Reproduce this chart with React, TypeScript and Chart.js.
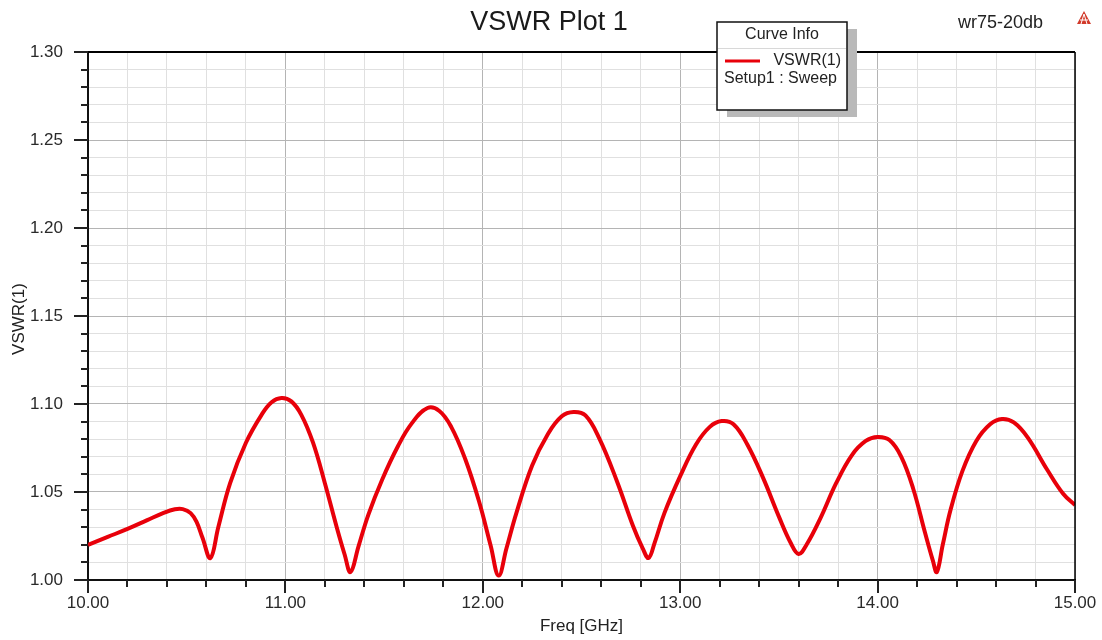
import React, { useEffect, useRef } from "react";
import { Chart, registerables } from "chart.js";

Chart.register(...registerables);

const freqs: number[] = [
  10.0, 10.1, 10.2, 10.3, 10.38, 10.44, 10.48, 10.52, 10.55, 10.58, 10.62,
  10.66, 10.72, 10.8, 10.88, 10.93, 10.98, 11.03, 11.08, 11.14, 11.2, 11.26, 11.3, 11.33,
  11.37, 11.42, 11.49, 11.57, 11.64, 11.72, 11.78, 11.84, 11.91, 11.98, 12.04, 12.08,
  12.12, 12.17, 12.25, 12.33, 12.4, 12.46, 12.52, 12.59, 12.68, 12.76, 12.81, 12.84,
  12.87, 12.92, 13.0, 13.08, 13.15, 13.21, 13.27, 13.34, 13.42, 13.5, 13.56, 13.6,
  13.64, 13.71, 13.79, 13.87, 13.94, 14.0, 14.06, 14.12, 14.18, 14.24, 14.28, 14.3,
  14.33, 14.37, 14.43, 14.5, 14.57, 14.63, 14.69, 14.76, 14.86, 14.94, 15.0,
];
const vswr: number[] = [
  1.02, 1.0245, 1.029, 1.034, 1.038, 1.0402, 1.0403, 1.038, 1.033, 1.024, 1.0125,
  1.03, 1.055, 1.078, 1.094, 1.101, 1.1034, 1.1015, 1.094, 1.078, 1.055, 1.03, 1.0145, 1.0045,
  1.019, 1.037, 1.057, 1.076, 1.089, 1.0977, 1.096, 1.087, 1.069, 1.045, 1.0195, 1.0025,
  1.018, 1.038, 1.065, 1.083, 1.093, 1.0955, 1.0935, 1.0805, 1.056, 1.031, 1.018, 1.0125,
  1.021, 1.038, 1.059, 1.077, 1.087, 1.0903, 1.0885, 1.077, 1.058, 1.036, 1.021, 1.0148,
  1.02, 1.035, 1.055, 1.071, 1.079, 1.0813, 1.0795, 1.07, 1.052, 1.027, 1.011, 1.0045,
  1.02, 1.04, 1.062, 1.079, 1.0885, 1.0915, 1.0895, 1.081, 1.0625, 1.049, 1.0426,
];

const chartTitle = "VSWR Plot 1";
const designName = "wr75-20db";
const xTitle = "Freq [GHz]";
const yTitle = "VSWR(1)";
const legendTitle = "Curve Info";
const seriesName = "VSWR(1)";
const seriesSub = "Setup1 : Sweep";

const FONT = "'Liberation Sans', Arial, sans-serif";
const RED = "#e8000a";

const isMajorX = (v: number) => Math.abs(v - Math.round(v)) < 1e-6;
const isMajorY = (v: number) => Math.abs(v * 20 - Math.round(v * 20)) < 1e-6;

const decorPlugin = {
  id: "decor",
  afterDraw(chart: any) {
    const ctx = chart.ctx as CanvasRenderingContext2D;
    const { left, right, top, bottom } = chart.chartArea;
    const xs = chart.scales.x;
    const ys = chart.scales.y;
    ctx.save();
    ctx.strokeStyle = "#000";
    ctx.lineWidth = 2;
    ctx.beginPath();
    ctx.moveTo(left, top);
    ctx.lineTo(right, top);
    ctx.stroke();
    ctx.lineWidth = 1.5;
    ctx.beginPath();
    ctx.moveTo(right, top);
    ctx.lineTo(right, bottom);
    ctx.stroke();
    ctx.lineWidth = 2;
    ctx.strokeStyle = "#222";
    xs.ticks.forEach((t: any) => {
      const px = Math.round(xs.getPixelForValue(t.value));
      const len = isMajorX(t.value) ? 13 : 7;
      ctx.beginPath();
      ctx.moveTo(px, bottom);
      ctx.lineTo(px, bottom + len);
      ctx.stroke();
    });
    ys.ticks.forEach((t: any) => {
      const py = Math.round(ys.getPixelForValue(t.value));
      const len = isMajorY(t.value) ? 14 : 7;
      ctx.beginPath();
      ctx.moveTo(left, py);
      ctx.lineTo(left - len, py);
      ctx.stroke();
    });
    ctx.fillStyle = "#1a1a1a";
    ctx.textAlign = "center";
    ctx.textBaseline = "middle";
    ctx.font = `27px ${FONT}`;
    ctx.fillText(chartTitle, 549, 23);
    ctx.font = `17px ${FONT}`;
    ctx.fillStyle = "#222";
    ctx.fillText(xTitle, (left + right) / 2, 626);
    ctx.save();
    ctx.translate(19, 319);
    ctx.rotate(-Math.PI / 2);
    ctx.fillText(yTitle, 0, 0);
    ctx.restore();
    ctx.textAlign = "left";
    ctx.font = `18px ${FONT}`;
    ctx.fillText(designName, 958, 23);
    ctx.fillStyle = "#d23a2a";
    ctx.beginPath();
    ctx.moveTo(1084, 11);
    ctx.lineTo(1077, 24);
    ctx.lineTo(1091, 24);
    ctx.closePath();
    ctx.fill();
    ctx.strokeStyle = "#fff";
    ctx.lineWidth = 1;
    ctx.beginPath();
    ctx.moveTo(1084, 14);
    ctx.lineTo(1081, 24);
    ctx.moveTo(1084, 14);
    ctx.lineTo(1087, 24);
    ctx.moveTo(1080, 20);
    ctx.lineTo(1088, 20);
    ctx.stroke();
    const bx = 717, by = 22, bw = 130, bh = 88;
    ctx.fillStyle = "#b9b9b9";
    ctx.fillRect(bx + 10, by + 7, bw, bh);
    ctx.fillStyle = "#fff";
    ctx.fillRect(bx, by, bw, bh);
    ctx.strokeStyle = "#111";
    ctx.lineWidth = 1.5;
    ctx.strokeRect(bx, by, bw, bh);
    ctx.strokeStyle = "#d8d8d8";
    ctx.lineWidth = 1;
    ctx.beginPath();
    ctx.moveTo(bx + 1, 48.5);
    ctx.lineTo(bx + bw - 1, 48.5);
    ctx.stroke();
    ctx.fillStyle = "#222";
    ctx.font = `16px ${FONT}`;
    ctx.textAlign = "center";
    ctx.fillText(legendTitle, 782, 35);
    ctx.textAlign = "right";
    ctx.fillText(seriesName, 841, 61);
    ctx.textAlign = "left";
    ctx.fillText(seriesSub, 724, 79);
    ctx.strokeStyle = RED;
    ctx.lineWidth = 3;
    ctx.beginPath();
    ctx.moveTo(725, 61);
    ctx.lineTo(760, 61);
    ctx.stroke();
    ctx.restore();
  },
};

export default function App() {
  const ref = useRef<HTMLCanvasElement | null>(null);
  useEffect(() => {
    if (!ref.current) return;
    const chart = new Chart(ref.current, {
      type: "line",
      data: {
        datasets: [
          {
            label: seriesName,
            data: freqs.map((f, i) => ({ x: f, y: vswr[i] })),
            borderColor: RED,
            borderWidth: 4,
            pointRadius: 0,
            tension: 0.4,
            fill: false,
          },
        ],
      },
      options: {
        responsive: false,
        animation: false,
        layout: { padding: { left: 0, top: 52, right: 27, bottom: 0 } },
        plugins: { legend: { display: false }, title: { display: false }, tooltip: { enabled: false } },
        scales: {
          x: {
            type: "linear",
            min: 10,
            max: 15,
            afterFit: (s: any) => {
              s.height = 60;
              s.paddingLeft = 0;
              s.paddingRight = 0;
            },
            ticks: {
              stepSize: 0.2,
              autoSkip: false,
              maxRotation: 0,
              padding: 13,
              color: "#2a2a2a",
              font: { family: FONT, size: 17 },
              callback: (v: any) => (isMajorX(Number(v)) ? Number(v).toFixed(2) : ""),
            },
            grid: {
              drawTicks: false,
              color: (c: any) => (c.tick && isMajorX(c.tick.value) ? "#b4b4b4" : "#e0e0e0"),
              lineWidth: 1,
            },
            border: { display: true, color: "#111", width: 2 },
          },
          y: {
            type: "linear",
            min: 1.0,
            max: 1.3,
            afterFit: (s: any) => {
              s.width = 88;
              s.paddingTop = 0;
              s.paddingBottom = 0;
            },
            ticks: {
              stepSize: 0.01,
              autoSkip: false,
              maxTicksLimit: 100,
              padding: 25,
              color: "#2a2a2a",
              font: { family: FONT, size: 17 },
              callback: (v: any) => (isMajorY(Number(v)) ? Number(v).toFixed(2) : ""),
            },
            grid: {
              drawTicks: false,
              color: (c: any) => (c.tick && isMajorY(c.tick.value) ? "#b4b4b4" : "#e0e0e0"),
              lineWidth: 1,
            },
            border: { display: true, color: "#111", width: 2 },
          },
        },
      },
      plugins: [decorPlugin],
    } as any);
    return () => chart.destroy();
  }, []);
  return (
    <div style={{ position: "absolute", left: 0, top: 0, width: 1102, height: 640, background: "#fff" }}>
      <canvas ref={ref} width={1102} height={640} style={{ display: "block" }} />
    </div>
  );
}
